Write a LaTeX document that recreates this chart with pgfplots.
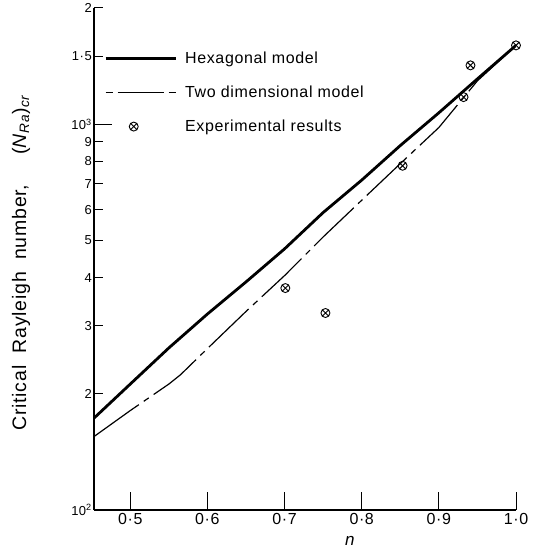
\documentclass[border=0pt]{standalone}
\usepackage{fontspec}
\setmainfont{Liberation Sans}[LetterSpace=4]
\usepackage{pgfplots}
\pgfplotsset{compat=1.18}
\usetikzlibrary{plotmarks}

\pgfplotsset{
  leghex/.style={legend image code/.code={\draw[##1] (0pt,0pt) -- (70pt,0pt);}},
  legtwo/.style={legend image code/.code={\draw[##1, dash pattern=on 7pt off 5pt on 46pt off 5pt on 7pt off 5pt] (0pt,0pt) -- (70pt,0pt);}},
  legexp/.style={legend image code/.code={\draw[##1] plot coordinates {(28pt,0pt)};}},
}

\begin{document}
\begin{tikzpicture}
\begin{axis}[
    at={(0pt,0pt)}, anchor=south west,
    scale only axis, width=422pt, height=502pt,
    ymode=log,
    xmin=0.453, xmax=1.0, ymin=100, ymax=2000,
    axis x line*=bottom, axis y line*=left,
    x axis line style={-}, y axis line style={-},
    axis line style={line width=1.8pt},
    tick align=inside,
    major tick length=9pt,
    every tick/.style={black, line width=1pt},
    yminorticks=false,
    ytick={100,200,300,400,500,600,700,800,900,1000,1500,2000},
    yticklabels={10\textsuperscript{2},2,3,4,5,6,7,8,9,10\textsuperscript{3},1·5,2},
    yticklabel style={font=\fontsize{13}{15}\selectfont, inner sep=2pt},
    extra y ticks={1000},
    extra y tick labels={},
    extra y tick style={major tick length=18pt},
    xtick=\empty,
    extra x ticks={0.5,0.6,0.7,0.8,0.9,1.0},
    extra x tick labels={0·5,0·6,0·7,0·8,0·9,1·0},
    extra x tick style={major tick length=18pt},
    xticklabel style={font=\fontsize{16}{18}\selectfont, inner sep=3pt},
    xlabel={\textit{n}},
    every axis x label/.style={at={(rel axis cs:0.607,0)}, yshift=-31pt, anchor=center, font=\fontsize{17}{20}\selectfont},
    ylabel={Critical\hspace{6pt} Rayleigh\hspace{6pt} number,\hspace{30pt}(\textit{N}\textsubscript{\textit{Ra}})\textsubscript{\textit{cr}}},
    every axis y label/.style={at={(rel axis cs:0,0.493)}, xshift=-73pt, rotate=90, anchor=center, font=\fontsize{19.5}{22}\selectfont},
    legend style={at={(rel axis cs:0.024,0.917)}, anchor=north west, draw=none, fill=none,
        font=\fontsize{16}{19}\selectfont, row sep=17pt, inner sep=0pt,
        /tikz/every odd column/.style={column sep=6pt}},
    legend cell align=left,
]
\addplot[black, line width=2.8pt, leghex]
  coordinates {
    (0.453,173) (0.5,212) (0.55,263) (0.6,322) (0.65,390) (0.7,475)
    (0.75,590) (0.8,716) (0.85,880) (0.9,1070) (0.95,1310) (1.0,1600)
  };
\addlegendentry{Hexagonal model}
\addplot[black, line width=1.2pt, dash pattern=on 55pt off 6pt on 6pt off 6pt, legtwo]
  coordinates {
    (0.453,155) (0.5,181) (0.55,212) (0.565,224) (0.6,262) (0.65,327)
    (0.7,405) (0.75,510) (0.8,635) (0.85,790) (0.9,980) (0.95,1295) (1.0,1600)
  };
\addlegendentry{Two dimensional model}
\addplot[black, only marks, mark=otimes, mark size=4.5pt, mark options={line width=0.9pt}, legexp]
  coordinates {
    (0.701,376) (0.753,324) (0.853,780) (0.932,1175) (0.941,1420) (1.0,1600)
  };
\addlegendentry{Experimental results}
\end{axis}
\pgfresetboundingbox
\path[use as bounding box] (-94pt,-38pt) rectangle (443pt,510pt);
\end{tikzpicture}
\end{document}
